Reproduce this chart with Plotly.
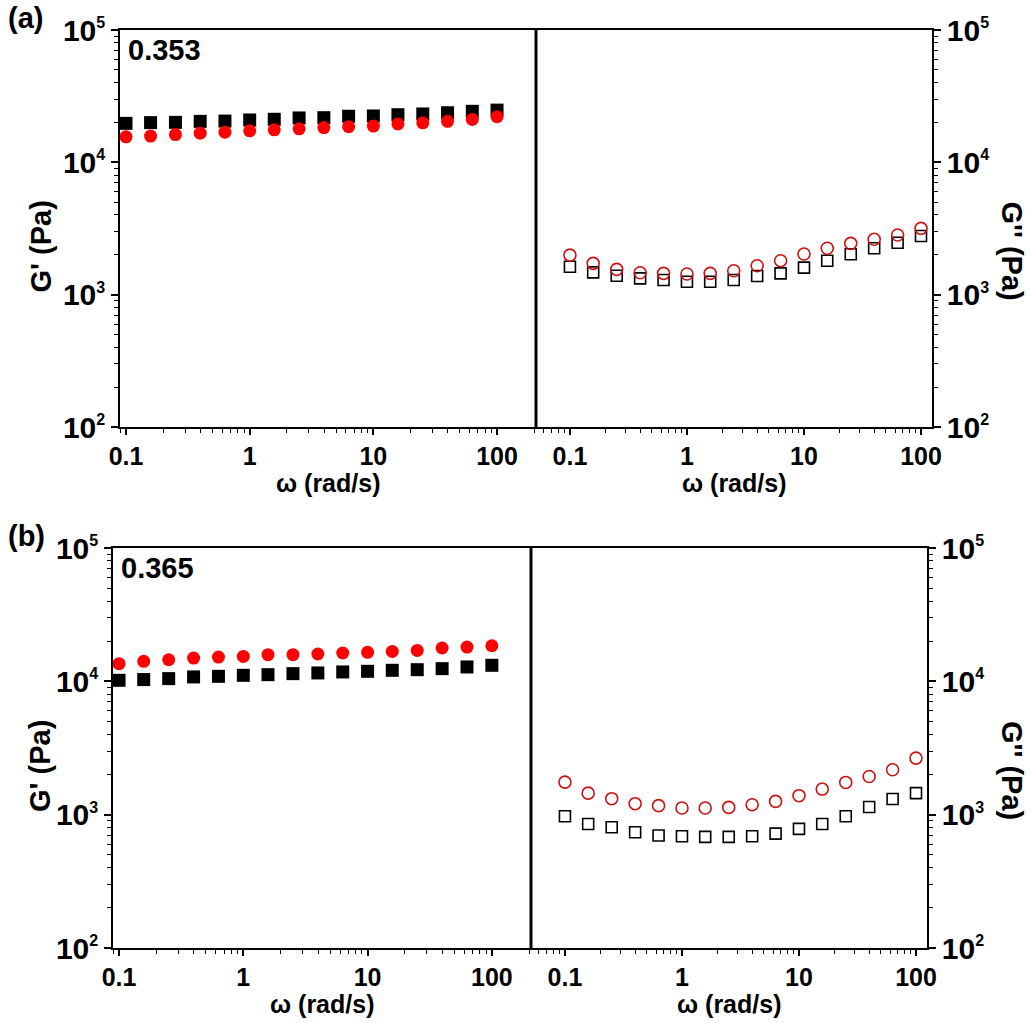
import plotly.graph_objects as go

# Angular frequency sweep (rad/s)
omega = [0.1, 0.158, 0.251, 0.398, 0.631, 1.0, 1.58, 2.51, 3.98, 6.31,
         10.0, 15.8, 25.1, 39.8, 63.1, 100.0]

# (a) sample 0.353
a_gp_black = [19700, 19950, 20050, 20400, 20500, 20900, 21150, 21650, 21750, 22300,
              22400, 22900, 23200, 23700, 24300, 24800]
a_gp_red = [15600, 15800, 16200, 16600, 16900, 17300, 17600, 17900, 18300, 18600,
            18800, 19500, 19900, 20400, 21100, 22100]
a_gpp_black = [1625, 1473, 1390, 1328, 1291, 1253, 1253, 1291, 1383, 1449,
               1600, 1806, 2019, 2241, 2470, 2778]
a_gpp_red = [1991, 1724, 1554, 1465, 1449, 1432, 1449, 1517, 1655, 1806,
             2028, 2241, 2442, 2620, 2825, 3170]

# (b) sample 0.365
b_gp_black = [10180, 10310, 10480, 10790, 10900, 11090, 11220, 11420, 11560, 11760,
              11890, 12100, 12230, 12450, 12820, 13190]
b_gp_red = [13560, 14130, 14520, 14950, 15210, 15380, 15840, 15840, 16030, 16310,
            16500, 16770, 17060, 17790, 18080, 18490]
b_gpp_black = [972, 851, 804, 738, 697, 688, 681, 681, 688, 721,
               782, 851, 972, 1142, 1310, 1451]
b_gpp_red = [1755, 1450, 1318, 1209, 1168, 1122, 1122, 1134, 1188, 1258,
             1388, 1556, 1745, 1933, 2171, 2655]

panel_tags = ["(a)", "(b)"]
sample_labels = ["0.353", "0.365"]
x_tick_vals = [0.1, 1, 10, 100]
x_tick_text = ["0.1", "1", "10", "100"]
y_tick_vals = [1e2, 1e3, 1e4, 1e5]
y_tick_text = ["10<sup><span style='font-size:16px'>%d</span></sup>" % e for e in (2, 3, 4, 5)]

W, H = 1031, 1023
RED_FILL = "#ff0000"
RED_OPEN = "#cc1010"
FAMILY = "Liberation Sans, Arial, sans-serif"

def px(v):
    return v / W

def py(v):
    return 1 - v / H

# frame edges in pixels per panel: left, divider, right, top, bottom
panels = [
    dict(l=120, m=536, r=932, t=30, b=427),
    dict(l=113, m=531, r=927, t=548, b=948),
]

data_sets = [
    (a_gp_black, a_gp_red, a_gpp_black, a_gpp_red),
    (b_gp_black, b_gp_red, b_gpp_black, b_gpp_red),
]

minor_x = [m * 10 ** e for e in range(-2, 3) for m in range(2, 10)]
minor_y = [m * 10 ** e for e in range(1, 5) for m in range(2, 10)]

x_font = dict(family=FAMILY, size=25, color="black", weight="bold")
y_font = dict(family=FAMILY, size=30, color="black", weight="bold")
title_font = dict(family=FAMILY, size=25, color="black", weight="bold")
lab_font = dict(family=FAMILY, size=29, color="black", weight="bold")

fig = go.Figure()

for i, (gpb, gpr, gppb, gppr) in enumerate(data_sets):
    xl, xr = 2 * i + 1, 2 * i + 2
    xl_n = "x" if xl == 1 else "x%d" % xl
    yl_n = "y" if xl == 1 else "y%d" % xl
    xr_n, yr_n = "x%d" % xr, "y%d" % xr

    fig.add_trace(go.Scatter(x=omega, y=gpb, mode="markers", xaxis=xl_n, yaxis=yl_n,
                             marker=dict(symbol="square", size=13, color="black"),
                             showlegend=False))
    fig.add_trace(go.Scatter(x=omega, y=gpr, mode="markers", xaxis=xl_n, yaxis=yl_n,
                             marker=dict(symbol="circle", size=13, color=RED_FILL),
                             showlegend=False))
    fig.add_trace(go.Scatter(x=omega, y=gppb, mode="markers", xaxis=xr_n, yaxis=yr_n,
                             marker=dict(symbol="square-open", size=11, color="black",
                                         line=dict(width=1.6, color="black")),
                             showlegend=False))
    fig.add_trace(go.Scatter(x=omega, y=gppr, mode="markers", xaxis=xr_n, yaxis=yr_n,
                             marker=dict(symbol="circle-open", size=12, color=RED_OPEN,
                                         line=dict(width=1.6, color=RED_OPEN)),
                             showlegend=False))

    p = panels[i]
    y_dom = [py(p["b"]), py(p["t"])]
    common_x = dict(type="log", showline=True, linecolor="black", linewidth=1.6, mirror=True,
                    ticks="outside", ticklen=6, tickwidth=1.5, tickcolor="black",
                    tickvals=x_tick_vals, ticktext=x_tick_text, tickfont=x_font,
                    showgrid=False, zeroline=False, automargin=False,
                    minor=dict(tickvals=minor_x, ticks="outside", ticklen=4,
                               tickwidth=1.2, tickcolor="black", showgrid=False))
    common_y = dict(type="log", range=[2, 5], domain=y_dom, showline=True, linecolor="black",
                    linewidth=1.6, ticks="outside", ticklen=7, tickwidth=1.5, tickcolor="black",
                    tickvals=y_tick_vals, ticktext=y_tick_text, tickfont=y_font,
                    showgrid=False, zeroline=False, automargin=False,
                    minor=dict(tickvals=minor_y, ticks="outside", ticklen=4,
                               tickwidth=1.2, tickcolor="black", showgrid=False))

    fig.layout["xaxis" if xl == 1 else "xaxis%d" % xl] = dict(
        common_x, domain=[px(p["l"]), px(p["m"])], range=[-1.0485, 2.315], anchor=yl_n)
    fig.layout["xaxis%d" % xr] = dict(
        common_x, domain=[px(p["m"]), px(p["r"])], range=[-1.29, 2.094], anchor=yr_n)
    fig.layout["yaxis" if xl == 1 else "yaxis%d" % xl] = dict(common_y, anchor=xl_n, side="left")
    fig.layout["yaxis%d" % xr] = dict(common_y, anchor=xr_n, side="right")

    # thick divider between the G' and G'' frames
    fig.add_shape(type="line", xref="paper", yref="paper",
                  x0=px(p["m"]), x1=px(p["m"]), y0=py(p["b"]), y1=py(p["t"]),
                  line=dict(color="black", width=3))

    for cx in ((p["l"] + p["m"]) / 2, (p["m"] + p["r"]) / 2):
        fig.add_annotation(text="\u03c9 (rad/s)", xref="paper", yref="paper",
                           x=px(cx), y=py(p["b"] + 56), showarrow=False, font=title_font,
                           xanchor="center", yanchor="middle")

    mid = (p["t"] + p["b"]) / 2 + 18
    fig.add_annotation(text="G' (Pa)", xref="paper", yref="paper", x=px(40), y=py(mid),
                       textangle=-90, showarrow=False, font=lab_font,
                       xanchor="center", yanchor="middle")
    fig.add_annotation(text="G'' (Pa)", xref="paper", yref="paper", x=px(1012), y=py(mid + 4),
                       textangle=90, showarrow=False, font=lab_font,
                       xanchor="center", yanchor="middle")
    fig.add_annotation(text=panel_tags[i], xref="paper", yref="paper", x=px(6), y=py(p["t"] - 12),
                       showarrow=False, font=lab_font, xanchor="left", yanchor="middle")
    fig.add_annotation(text=sample_labels[i], xref="paper", yref="paper", x=px(p["l"] + 6),
                       y=py(p["t"] + 20), showarrow=False, font=lab_font,
                       xanchor="left", yanchor="middle")

fig.update_layout(width=W, height=H, margin=dict(l=0, r=0, t=0, b=0),
                  paper_bgcolor="white", plot_bgcolor="white", showlegend=False)

fig.write_html("out.html")
